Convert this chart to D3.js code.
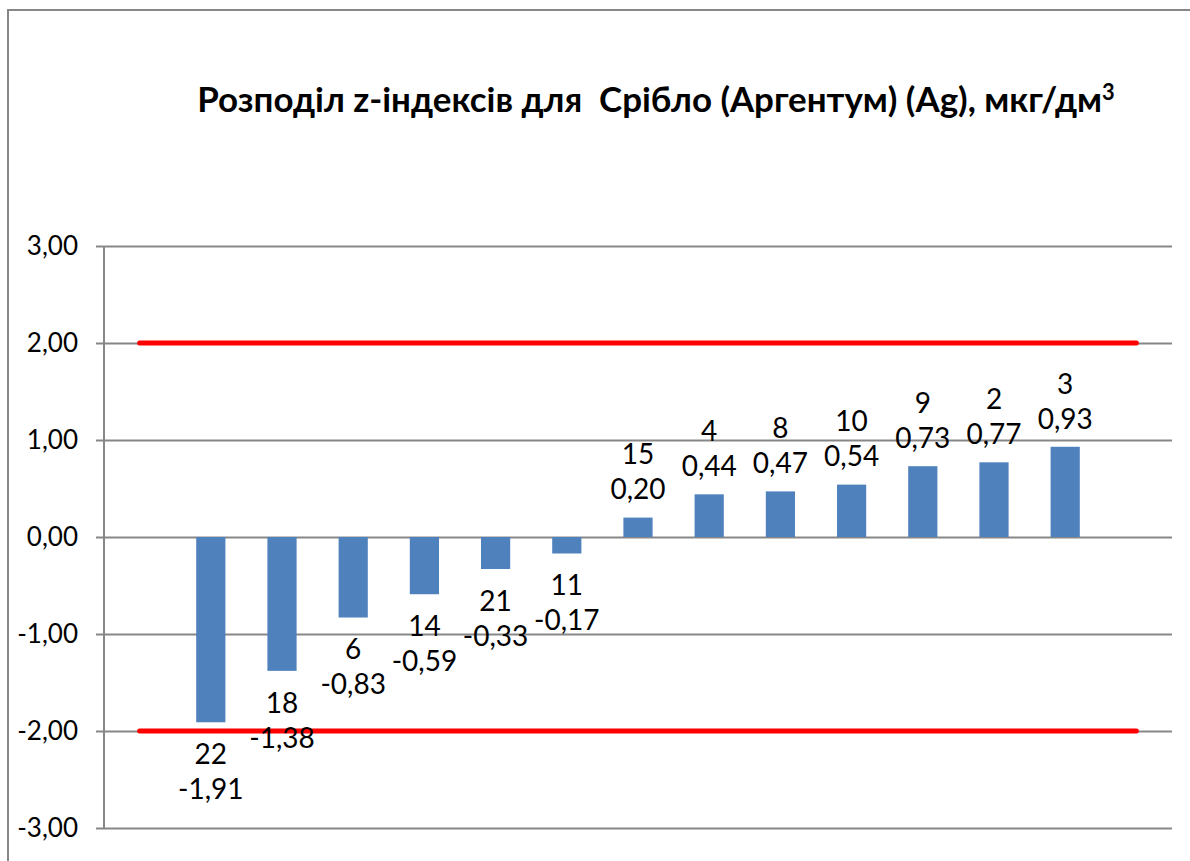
<!DOCTYPE html>
<html>
<head>
<meta charset="utf-8">
<script src="https://cdn.jsdelivr.net/npm/d3@7"></script>
<style>
  body { margin: 0; background: #fff; }
  text { font-family: Lato, "Noto Sans", sans-serif; fill: #000; }
</style>
</head>
<body>
<script>
// slots 0 and 14 are empty, like in the source sheet
var categories = ["", "22", "18", "6", "14", "21", "11", "15", "4", "8", "10", "9", "2", "3", ""];
var zValues = [null, -1.91, -1.38, -0.83, -0.59, -0.33, -0.17, 0.20, 0.44, 0.47, 0.54, 0.73, 0.77, 0.93, null];
var upperLimit = [2, 2, 2, 2, 2, 2, 2, 2, 2, 2, 2, 2, 2, 2, 2];
var lowerLimit = [-2, -2, -2, -2, -2, -2, -2, -2, -2, -2, -2, -2, -2, -2, -2];
var yTicks = [3, 2, 1, 0, -1, -2, -3];

var width = 1190, height = 861;
var svg = d3.select("body").append("svg").attr("width", width).attr("height", height);

// chart border
svg.append("rect")
    .attr("x", 8).attr("y", 10).attr("width", 1200).attr("height", 900)
    .attr("fill", "none").attr("stroke", "#878787").attr("stroke-width", 2);

var x = d3.scaleBand().domain(d3.range(categories.length)).range([104, 1172]);
var y = d3.scaleLinear().domain([-3, 3]).range([828, 246]);
var fmt = function (v) { return d3.format(".2f")(v).replace(".", ",").replace("\u2212", "-"); };

// gridlines + ticks
var yAxis = d3.axisLeft(y).tickValues(yTicks).tickSize(-(1172 - 104)).tickFormat(fmt).tickPadding(26);
var gy = svg.append("g").attr("transform", "translate(104,0)").call(yAxis);
gy.select(".domain").remove();
gy.selectAll(".tick line").attr("x1", -8).attr("stroke", "#878787").attr("stroke-width", 2);
gy.selectAll(".tick text").style("font-size", "26px").style("font-family", "Lato").attr("fill", "#000");

// vertical axis line
svg.append("line")
    .attr("x1", 104).attr("x2", 104).attr("y1", y(3)).attr("y2", y(-3))
    .attr("stroke", "#878787").attr("stroke-width", 2);

// bars
var bw = x.bandwidth() * 0.41;
var data = categories.map(function (c, i) { return { name: c, value: zValues[i], i: i }; })
    .filter(function (d) { return d.value !== null; });

svg.selectAll("rect.bar").data(data).enter().append("rect")
    .attr("class", "bar")
    .attr("x", function (d) { return x(d.i) + x.bandwidth() / 2 - bw / 2; })
    .attr("width", bw)
    .attr("y", function (d) { return Math.min(y(d.value), y(0)); })
    .attr("height", function (d) { return Math.abs(y(d.value) - y(0)); })
    .attr("fill", "#4f81bd");

// limit lines
var line = d3.line()
    .x(function (d, i) { return x(i) + x.bandwidth() / 2; })
    .y(function (d) { return y(d); });
[upperLimit, lowerLimit].forEach(function (arr) {
    svg.append("path").datum(arr)
        .attr("d", line)
        .attr("fill", "none").attr("stroke", "#ff0000")
        .attr("stroke-width", 5).attr("stroke-linecap", "round");
});

// data labels: name above value
var labels = svg.selectAll("g.lbl").data(data).enter().append("g")
    .attr("class", "lbl")
    .attr("transform", function (d) {
        var cx = x(d.i) + x.bandwidth() / 2;
        var c1 = d.value < 0 ? y(d.value) + 32 : y(d.value) - 63;
        return "translate(" + cx + "," + c1 + ")";
    });
labels.append("text")
    .attr("text-anchor", "middle").attr("dy", "0.35em")
    .style("font-size", "28px")
    .text(function (d) { return d.name; });
labels.append("text")
    .attr("text-anchor", "middle").attr("y", 35).attr("dy", "0.35em")
    .style("font-size", "28px")
    .text(function (d) { return fmt(d.value); });

// title
var title = svg.append("text")
    .attr("x", 656).attr("y", 112)
    .attr("text-anchor", "middle")
    .style("font-size", "32px").style("font-weight", "bold");
title.append("tspan").text("Розподіл z-індексів для  Срібло (Аргентум) (Ag), мкг/дм");
title.append("tspan").text("3").style("font-size", "20px").attr("dy", -12);
title.attr("xml:space", "preserve");
var tw = title.node().getComputedTextLength();
title.style("font-size", (32 * 918 / tw) + "px");
title.select("tspan:last-child").style("font-size", (20 * 918 / tw) + "px");
</script>
</body>
</html>
